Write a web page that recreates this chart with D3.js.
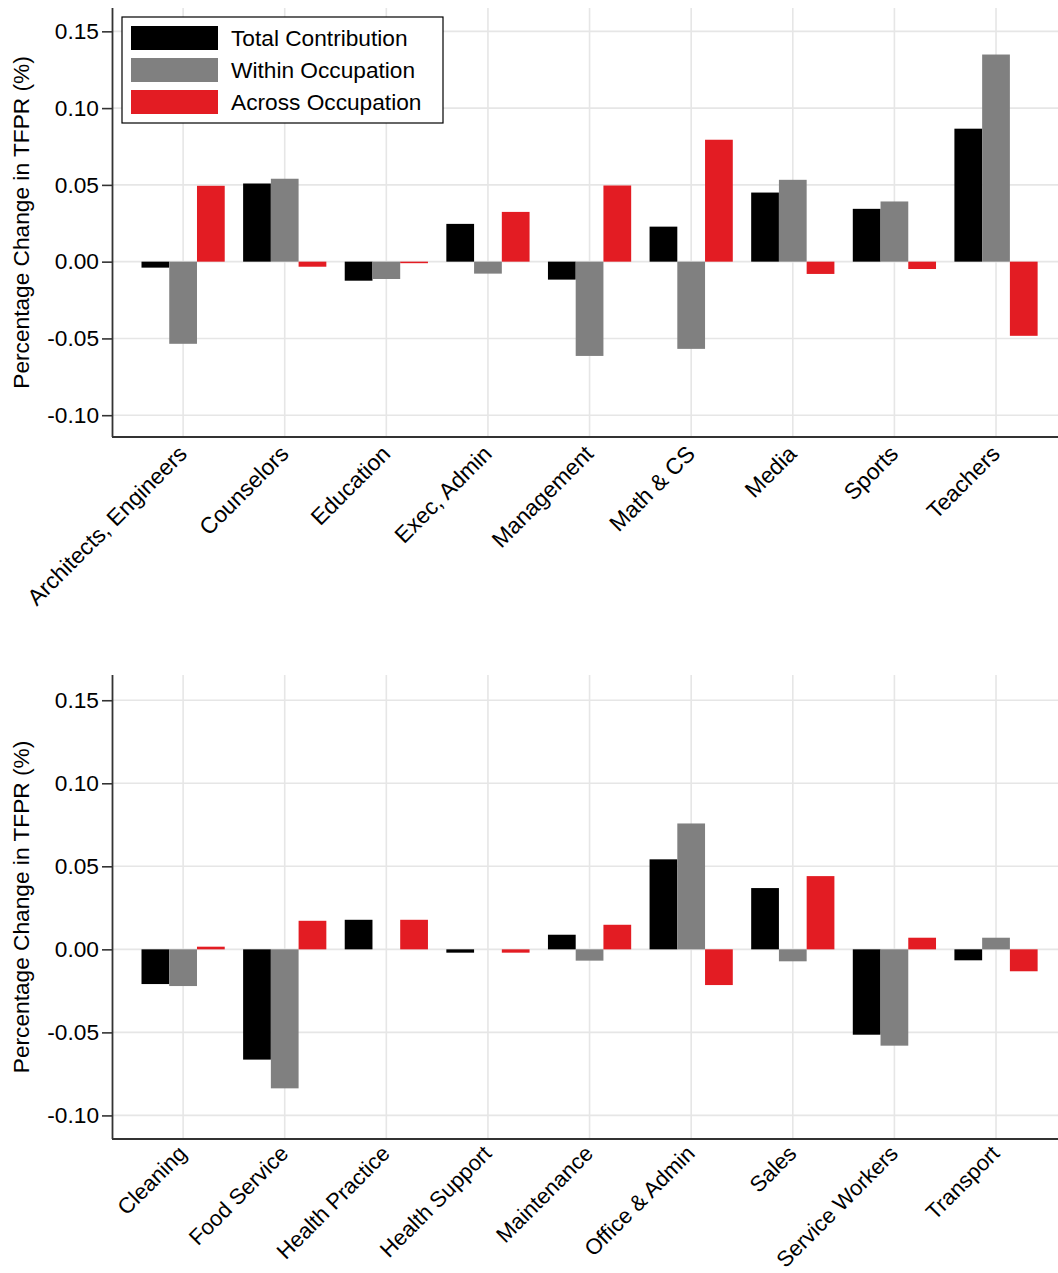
<!DOCTYPE html>
<html>
<head>
<meta charset="utf-8">
<script src="https://cdn.jsdelivr.net/npm/d3@7"></script>
<style>
  html, body { margin: 0; padding: 0; background: #fff; }
  svg { display: block; font-family: "Liberation Sans", Arial, Helvetica, sans-serif; }
</style>
</head>
<body>
<svg id="chart" width="1058" height="1273"></svg>
<script>
// Series names and colours
const seriesNames = ["Total Contribution", "Within Occupation", "Across Occupation"];
const seriesColors = ["#000000", "#808080", "#e31c23"];

// Panel 1: professional occupations
const topCategories = ["Architects, Engineers", "Counselors", "Education", "Exec, Admin",
  "Management", "Math & CS", "Media", "Sports", "Teachers"];
const topTotal  = [-0.0039, 0.0509, -0.0124, 0.0246, -0.0117, 0.0228, 0.0450, 0.0344, 0.0866];
const topWithin = [-0.0535, 0.0540, -0.0113, -0.0078, -0.0614, -0.0568, 0.0533, 0.0392, 0.1349];
const topAcross = [0.0494, -0.0033, -0.0010, 0.0324, 0.0496, 0.0794, -0.0080, -0.0048, -0.0483];

// Panel 2: service and support occupations
const bottomCategories = ["Cleaning", "Food Service", "Health Practice", "Health Support",
  "Maintenance", "Office & Admin", "Sales", "Service Workers", "Transport"];
const bottomTotal  = [-0.0209, -0.0664, 0.0178, -0.0020, 0.0088, 0.0542, 0.0369, -0.0514, -0.0066];
const bottomWithin = [-0.0221, -0.0837, 0.0000, 0.0000, -0.0068, 0.0758, -0.0072, -0.0580, 0.0070];
const bottomAcross = [0.0016, 0.0172, 0.0178, -0.0020, 0.0148, -0.0215, 0.0441, 0.0070, -0.0132];

const yTicks = [-0.10, -0.05, 0.00, 0.05, 0.10, 0.15];
const yTitle = "Percentage Change in TFPR (%)";

const FONT = 22.7;
const fmt = d => d3.format(".2f")(d).replace("\u2212", "-");

const svg = d3.select("#chart");

function drawPanel(opts) {
  const { categories, series, top, bottom, legend, labelSize, labelDrop } = opts;
  const left = 113;
  const g = svg.append("g");

  // x: category positions 1..n, last group runs past the right edge
  const x = d3.scaleLinear().domain([0.31, 9.61]).range([left, 1058]);
  const y = d3.scaleLinear().domain([-0.1142, 0.1652]).range([bottom, top]);
  const step = x(2) - x(1);
  const bw = step * 0.273;

  // gridlines
  g.append("g").selectAll("line.h").data(yTicks).join("line")
    .attr("x1", left).attr("x2", 1058)
    .attr("y1", d => y(d)).attr("y2", d => y(d))
    .attr("stroke", "#e6e6e6").attr("stroke-width", 1.6);
  g.append("g").selectAll("line.v").data(categories).join("line")
    .attr("x1", (d, i) => x(i + 1)).attr("x2", (d, i) => x(i + 1))
    .attr("y1", top).attr("y2", bottom)
    .attr("stroke", "#e6e6e6").attr("stroke-width", 1.6);

  // bars
  series.forEach((vals, s) => {
    g.append("g").selectAll("rect").data(vals).join("rect")
      .attr("x", (d, i) => x(i + 1) + (s - 1.5) * bw)
      .attr("width", bw)
      .attr("y", d => y(Math.max(0, d)))
      .attr("height", d => Math.abs(y(d) - y(0)))
      .attr("fill", seriesColors[s]);
  });

  // y axis
  const yAxis = d3.axisLeft(y).tickValues(yTicks).tickFormat(fmt).tickSize(11).tickPadding(3);
  const ya = g.append("g").attr("transform", `translate(${left},0)`).call(yAxis);
  ya.select(".domain").attr("stroke", "#333").attr("stroke-width", 1.8)
    .attr("d", `M-0.5,${top}V${bottom}`);
  ya.selectAll(".tick line").attr("stroke", "#333").attr("stroke-width", 1.6);
  ya.selectAll(".tick text").attr("font-size", FONT).attr("fill", "#000")
    .attr("font-family", "\"Liberation Sans\", Arial, sans-serif");

  // x axis
  const xa = g.append("g").attr("transform", `translate(0,${bottom})`);
  xa.append("line").attr("x1", left - 1).attr("x2", 1058).attr("y1", 0).attr("y2", 0)
    .attr("stroke", "#333").attr("stroke-width", 2);
  xa.selectAll("text").data(categories).join("text")
    .attr("transform", (d, i) => `translate(${x(i + 1) - 6},${labelDrop}) rotate(-45)`)
    .attr("text-anchor", "end")
    .attr("dy", "0.7em")
    .attr("font-size", labelSize)
    .attr("fill", "#000")
    .text(d => d);

  // y title
  g.append("text")
    .attr("transform", `translate(29,${(top + bottom) / 2}) rotate(-90)`)
    .attr("text-anchor", "middle")
    .attr("font-size", FONT)
    .attr("fill", "#000")
    .text(yTitle);

  if (legend) {
    const lg = g.append("g");
    lg.append("rect").attr("x", 122).attr("y", 17).attr("width", 321).attr("height", 106)
      .attr("fill", "#fff").attr("stroke", "#000").attr("stroke-width", 1.2);
    seriesNames.forEach((name, s) => {
      lg.append("rect").attr("x", 131).attr("y", 26 + s * 32).attr("width", 87).attr("height", 24)
        .attr("fill", seriesColors[s]);
      lg.append("text").attr("x", 231).attr("y", 38 + s * 32).attr("dy", "0.36em")
        .attr("font-size", FONT).attr("fill", "#000").text(name);
    });
  }
}

drawPanel({
  categories: topCategories,
  series: [topTotal, topWithin, topAcross],
  top: 8, bottom: 437, legend: true, labelSize: FONT, labelDrop: 7
});
drawPanel({
  categories: bottomCategories,
  series: [bottomTotal, bottomWithin, bottomAcross],
  top: 675, bottom: 1139, legend: false, labelSize: 22, labelDrop: 5
});
</script>
</body>
</html>
